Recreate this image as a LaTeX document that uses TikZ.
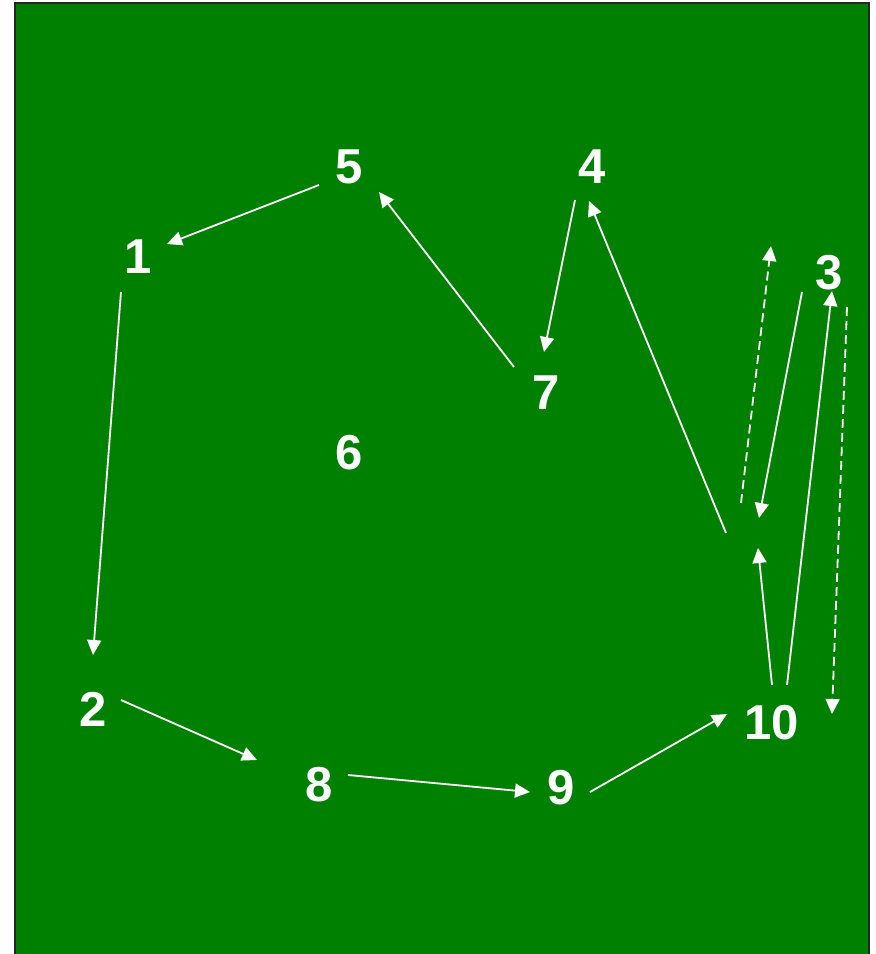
\documentclass[tikz,border=0pt]{standalone}
\usepackage{fontspec}
\setmainfont{Liberation Sans}
\usetikzlibrary{arrows.meta}
\definecolor{bg}{RGB}{0,128,0}
\begin{document}
\begin{tikzpicture}[x=1pt,y=-1pt,
  lbl/.style={text=white,font=\bfseries\fontsize{49}{49}\selectfont,inner sep=0pt},
  conn/.style={draw=white,line width=1.8pt,-{Triangle[length=15pt,width=14pt]}},
  dconn/.style={conn,dash pattern=on 9pt off 5pt}]
\useasboundingbox (0,0) rectangle (876,954);
\draw[fill=bg,draw=black!85,line width=1.6pt] (15,3) rectangle (869,970);
% labels
\node[lbl] (n5) at (349,167) {5};
\node[lbl] (n4) at (592,167) {4};
\node[lbl] (n1) at (138,257) {1};
\node[lbl] (n3) at (829,273) {3};
\node[lbl] (n7) at (546,393) {7};
\node[lbl] (n6) at (349,453) {6};
\node[lbl] (n2) at (93,709) {2};
\node[lbl] (n8) at (319,785) {8};
\node[lbl] (n9) at (561,788) {9};
\node[lbl] (n10) at (772,723) {10};
% connector end points
\coordinate (a5s) at (319,185); \coordinate (a5e) at (167,244);
\coordinate (a1s) at (121,292); \coordinate (a1e) at (93,655);
\coordinate (a2s) at (121,700); \coordinate (a2e) at (257,760);
\coordinate (a8s) at (348,775); \coordinate (a8e) at (530,792);
\coordinate (a9s) at (590,792); \coordinate (a9e) at (727,714);
\coordinate (b1s) at (772,685); \coordinate (b1e) at (758,548);
\coordinate (b2s) at (787,685); \coordinate (b2e) at (832,291);
\coordinate (b3s) at (802,292); \coordinate (b3e) at (759,518);
\coordinate (b4s) at (741,503); \coordinate (b4e) at (771,246);
\coordinate (b5s) at (847,307); \coordinate (b5e) at (832,714);
\coordinate (b6s) at (726,533); \coordinate (b6e) at (589,201);
\coordinate (a4s) at (575,200); \coordinate (a4e) at (544,352);
\coordinate (a7s) at (514,367); \coordinate (a7e) at (379,192);
% connectors
\draw[conn] (a5s) -- (a5e);
\draw[conn] (a1s) -- (a1e);
\draw[conn] (a2s) -- (a2e);
\draw[conn] (a8s) -- (a8e);
\draw[conn] (a9s) -- (a9e);
\draw[conn] (b1s) -- (b1e);
\draw[conn] (b2s) -- (b2e);
\draw[conn] (b3s) -- (b3e);
\draw[dconn] (b4s) -- (b4e);
\draw[dconn] (b5s) -- (b5e);
\draw[conn] (b6s) -- (b6e);
\draw[conn] (a4s) -- (a4e);
\draw[conn] (a7s) -- (a7e);
\end{tikzpicture}
\end{document}
